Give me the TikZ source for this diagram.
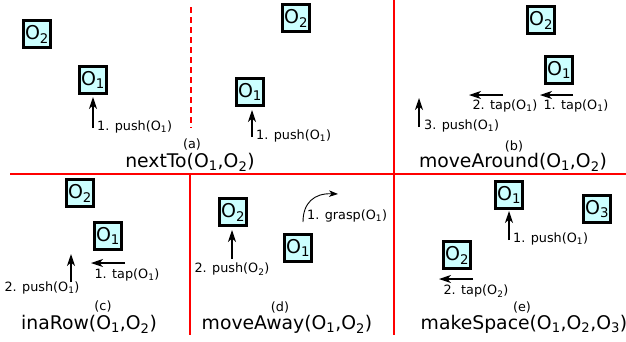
\documentclass[tikz,border=0pt]{standalone}
\usepackage{fontspec}
\setmainfont{DejaVu Sans}
\usetikzlibrary{arrows.meta}
\definecolor{boxfill}{HTML}{CCFFFF}
\newcommand{\myO}[1]{O\textsubscript{#1}}
\begin{document}
\begin{tikzpicture}[x=1pt,y=-1pt,
 obj/.style={draw=black,line width=3pt,fill=boxfill,minimum size=27.5pt,inner sep=0pt,font=\fontsize{19}{19}\selectfont},
 sep/.style={red,line width=1.8pt},
 dsep/.style={red,line width=1.3pt,dash pattern=on 6pt off 4pt},
 act/.style={-{Stealth[length=12pt,width=8pt,inset=3.5pt]},line width=1.1pt},
 cact/.style={-{Stealth[length=9pt,width=6.5pt,inset=2.5pt]},line width=0.9pt},
 lbl/.style={font=\fontsize{12.8}{15}\selectfont,inner sep=0pt},
 ttl/.style={font=\fontsize{18.8}{21}\selectfont,inner sep=0pt}]
\useasboundingbox (0,0) rectangle (626,341);
% separators
\coordinate (hL) at (10,174); \coordinate (hR) at (626,174);
\coordinate (vT) at (394,0); \coordinate (vM) at (394,174); \coordinate (vB) at (394,335);
\coordinate (v2T) at (190,174); \coordinate (v2B) at (190,335);
\coordinate (dT) at (191,7); \coordinate (dB) at (191,128);
\draw[sep] (hL) -- (hR);
\draw[sep] (vT) -- (vB);
\draw[sep] (v2T) -- (v2B);
\draw[dsep] (dT) -- (dB);
% (a)
\node[obj] (a2) at (37,34) {\myO{2}};
\node[obj] (a1) at (93,80) {\myO{1}};
\coordinate (aS) at (93,128); \coordinate (aE) at (93,97);
\draw[act] (aS) -- (aE);
\node[lbl,anchor=west] (aL) at (97,127) {1. push(\myO{1})};
\node[obj] (a2r) at (296,18) {\myO{2}};
\node[obj] (a1r) at (250,92) {\myO{1}};
\coordinate (arS) at (252,137); \coordinate (arE) at (252,110);
\draw[act] (arS) -- (arE);
\node[lbl,anchor=west] (arL) at (256,136) {1. push(\myO{1})};
\node[lbl] (aTag) at (192,144) {(a)};
\node[ttl] (aT) at (190,162) {nextTo(\myO{1},\myO{2})};
% (b)
\node[obj] (b2) at (541,20) {\myO{2}};
\node[obj] (b1) at (559,70) {\myO{1}};
\coordinate (b1S) at (573,95); \coordinate (b1E) at (540,95);
\draw[act] (b1S) -- (b1E);
\node[lbl] (b1L) at (576,106) {1. tap(\myO{1})};
\coordinate (b2S) at (503,95); \coordinate (b2E) at (469,95);
\draw[act] (b2S) -- (b2E);
\node[lbl] (b2L) at (505,106) {2. tap(\myO{1})};
\coordinate (b3S) at (419,127); \coordinate (b3E) at (419,98);
\draw[act] (b3S) -- (b3E);
\node[lbl,anchor=west] (b3L) at (424,126) {3. push(\myO{1})};
\node[lbl] (bTag) at (514,146) {(b)};
\node[ttl] (bT) at (513,162) {moveAround(\myO{1},\myO{2})};
% (c)
\node[obj] (c2) at (80,193) {\myO{2}};
\node[obj] (c1) at (108,236) {\myO{1}};
\coordinate (c1S) at (125,263); \coordinate (c1E) at (91,263);
\draw[act] (c1S) -- (c1E);
\node[lbl] (c1L) at (127,275) {1. tap(\myO{1})};
\coordinate (c2S) at (71,282); \coordinate (c2E) at (71,254);
\draw[act] (c2S) -- (c2E);
\node[lbl] (c2L) at (42,288) {2. push(\myO{1})};
\node[lbl] (cTag) at (103,306) {(c)};
\node[ttl] (cT) at (89,324) {inaRow(\myO{1},\myO{2})};
% (d)
\node[obj] (d2) at (233,212) {\myO{2}};
\node[obj] (d1) at (298,248) {\myO{1}};
\coordinate (d2S) at (232,259); \coordinate (d2E) at (232,230);
\draw[act] (d2S) -- (d2E);
\node[lbl] (d2L) at (232,269) {2. push(\myO{2})};
\coordinate (d1S) at (303,222); \coordinate (d1E) at (338,194);
\draw[cact] (d1S) .. controls (303,203) and (314,193) .. (d1E);
\node[lbl,anchor=west] (d1L) at (307,216) {1. grasp(\myO{1})};
\node[lbl] (dTag) at (280,307) {(d)};
\node[ttl] (dT) at (287,324) {moveAway(\myO{1},\myO{2})};
% (e)
\node[obj] (e1) at (509,195) {\myO{1}};
\node[obj] (e3) at (597,209) {\myO{3}};
\node[obj] (e2) at (457,255) {\myO{2}};
\coordinate (e1S) at (509,240); \coordinate (e1E) at (509,211);
\draw[act] (e1S) -- (e1E);
\node[lbl,anchor=west] (e1L) at (513,239) {1. push(\myO{1})};
\coordinate (e2S) at (473,279); \coordinate (e2E) at (439,279);
\draw[act] (e2S) -- (e2E);
\node[lbl] (e2L) at (476,291) {2. tap(\myO{2})};
\node[lbl] (eTag) at (522,307) {(e)};
\node[ttl] (eT) at (524,324) {makeSpace(\myO{1},\myO{2},\myO{3})};
\end{tikzpicture}
\end{document}
